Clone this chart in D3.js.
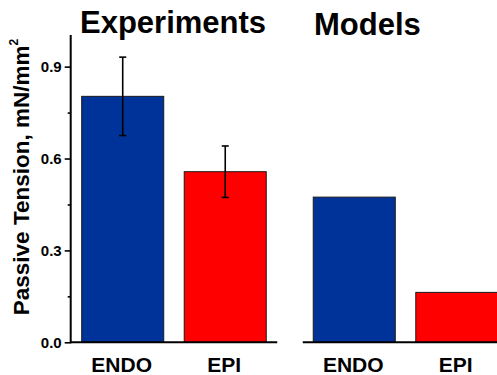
<!DOCTYPE html>
<html>
<head>
<meta charset="utf-8">
<script src="https://cdn.jsdelivr.net/npm/d3@7"></script>
<style>
  html, body { margin: 0; padding: 0; background: #fff; }
  svg { display: block; font-family: "Liberation Sans", Arial, sans-serif; }
</style>
</head>
<body>
<svg id="chart" width="497" height="375"></svg>
<script>
const groups = ["Experiments", "Models"];
const categories = ["ENDO", "EPI"];
const experimentValues = [0.803, 0.557];
const experimentErrors = [0.128, 0.084];
const modelValues = [0.474, 0.163];
const yTicks = [0.0, 0.3, 0.6, 0.9];
const yMinorTicks = [0.15, 0.45, 0.75];
const colors = ["#003399", "#ff0000"];

const svg = d3.select("#chart");

const y = d3.scaleLinear().domain([0, 1]).range([342.3, 36]);
const x0 = d3.scaleBand().domain(groups).range([81.7, 497.8]).paddingInner(0.203);
const x1 = d3.scaleBand().domain(categories).range([0, x0.bandwidth()]).paddingInner(0.2);

const data = [];
groups.forEach((g, gi) => {
  categories.forEach((c, ci) => {
    data.push({
      group: g, cat: c,
      value: gi === 0 ? experimentValues[ci] : modelValues[ci],
      err: gi === 0 ? experimentErrors[ci] : null,
      color: colors[ci]
    });
  });
});

// bars
svg.append("g").selectAll("rect").data(data).join("rect")
  .attr("x", d => x0(d.group) + x1(d.cat))
  .attr("y", d => y(d.value))
  .attr("width", x1.bandwidth())
  .attr("height", d => y(0) - y(d.value))
  .attr("fill", d => d.color)
  .attr("stroke", "#1a1a1a")
  .attr("stroke-width", 1);

// error bars
const eb = svg.append("g").attr("stroke", "#000").attr("stroke-width", 1.6);
data.filter(d => d.err != null).forEach(d => {
  const cx = x0(d.group) + x1(d.cat) + x1.bandwidth() / 2;
  eb.append("line").attr("x1", cx).attr("x2", cx)
    .attr("y1", y(d.value + d.err)).attr("y2", y(d.value - d.err));
  eb.append("line").attr("x1", cx - 3.5).attr("x2", cx + 3.5)
    .attr("y1", y(d.value + d.err)).attr("y2", y(d.value + d.err));
  eb.append("line").attr("x1", cx - 3.5).attr("x2", cx + 3.5)
    .attr("y1", y(d.value - d.err)).attr("y2", y(d.value - d.err));
});

// y axis
const axisX = 70.7;
const yAxis = svg.append("g").attr("transform", `translate(${axisX},0)`);
yAxis.call(d3.axisLeft(y).tickValues(yTicks).tickFormat(d3.format(".1f")).tickSize(6).tickPadding(3));
yAxis.append("g").call(d3.axisLeft(y).tickValues(yMinorTicks).tickFormat("").tickSize(3))
  .select(".domain").remove();
yAxis.select(".domain").remove();
yAxis.selectAll("line").attr("stroke", "#000").attr("stroke-width", 1.6);
yAxis.selectAll("text").attr("font-size", 15).attr("font-weight", "bold").attr("fill", "#000")
  .attr("font-family", "'Liberation Sans', Arial, sans-serif");
svg.append("line").attr("x1", axisX).attr("x2", axisX).attr("y1", 35).attr("y2", y(0) + 1)
  .attr("stroke", "#000").attr("stroke-width", 2);

// x axis segments
groups.forEach((g, gi) => {
  const xs = gi === 0 ? axisX : x0(g) - 10.5;
  const xe = x0(g) + x0.bandwidth() + 11;
  svg.append("line").attr("x1", xs).attr("x2", Math.min(xe, 497)).attr("y1", y(0)).attr("y2", y(0))
    .attr("stroke", "#000").attr("stroke-width", 2);
});

// category labels
svg.append("g").selectAll("text").data(data).join("text")
  .attr("x", d => x0(d.group) + x1(d.cat) + x1.bandwidth() / 2 - 1)
  .attr("y", 372)
  .attr("text-anchor", "middle")
  .attr("font-size", 21).attr("font-weight", "bold").attr("fill", "#000")
  .text(d => d.cat);

// group titles
const titleX = [80, 314];
const titleY = [33, 35];
svg.append("g").selectAll("text").data(groups).join("text")
  .attr("x", (d, i) => titleX[i])
  .attr("y", (d, i) => titleY[i])
  .attr("font-size", 31).attr("font-weight", "bold").attr("fill", "#000")
  .text(d => d);

// y label
const yl = svg.append("text")
  .attr("transform", "translate(29,177) rotate(-90)")
  .attr("text-anchor", "middle")
  .attr("font-size", 22.5).attr("font-weight", "bold").attr("fill", "#000");
yl.append("tspan").text("Passive Tension, mN/mm");
yl.append("tspan").attr("font-size", 12).attr("dy", -11).text("2");
</script>
</body>
</html>
